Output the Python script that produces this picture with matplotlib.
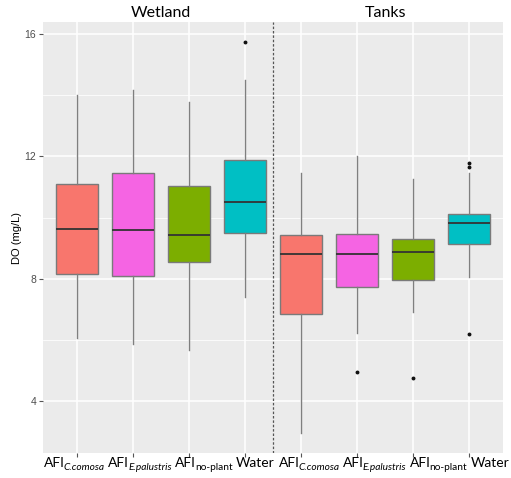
import numpy as np
import matplotlib
matplotlib.use("Agg")
import matplotlib.pyplot as plt
from matplotlib.ticker import MultipleLocator

plt.rcParams['font.family'] = ['Lato', 'DejaVu Sans']

# Dissolved oxygen box statistics, wetland first then tanks
label_main = ['AFI', 'AFI', 'AFI', 'Water'] * 2
label_sub = ['C.comosa', 'E.palustris', 'no-plant', ''] * 2
sub_italic = [True, True, False, False] * 2
whislo = [6.06, 5.86, 5.66, 7.42, 2.97, 6.22, 6.93, 8.05]
q1 = [8.17, 8.09, 8.54, 9.51, 6.84, 7.72, 7.95, 9.14]
med = [9.64, 9.58, 9.43, 10.52, 8.81, 8.81, 8.88, 9.82]
q3 = [11.09, 11.45, 11.03, 11.87, 9.43, 9.45, 9.29, 10.11]
whishi = [14.02, 14.16, 13.78, 14.50, 11.45, 12.01, 11.26, 11.45]
fliers = [[], [], [], [15.75], [], [4.96], [4.77], [11.79, 11.64, 6.20]]
colors = ['#F8766D', '#F564E3', '#7CAE00', '#00BFC4'] * 2
groups = ['Wetland', 'Tanks']

stats = []
for i in range(len(med)):
    stats.append(dict(whislo=whislo[i], q1=q1[i], med=med[i], q3=q3[i],
                      whishi=whishi[i], fliers=fliers[i]))

W, H = 511, 478
fig = plt.figure(figsize=(W / 100, H / 100), dpi=100)
ax = fig.add_axes([43 / W, 25 / H, 460 / W, 431 / H])
ax.set_facecolor('#EBEBEB')

pos = np.arange(1, len(med) + 1)
bp = ax.bxp(stats, positions=pos, widths=0.75, patch_artist=True, showcaps=False,
            boxprops=dict(edgecolor='#7a7a7a', linewidth=1.0),
            whiskerprops=dict(color='#7f7f7f', linewidth=1.0),
            medianprops=dict(color='#333333', linewidth=1.3),
            flierprops=dict(marker='o', markersize=1.8, markerfacecolor='#111111',
                            markeredgecolor='#111111'))
for box, c in zip(bp['boxes'], colors):
    box.set_facecolor(c)

ax.axvline(4.5, color='#555555', linestyle=(0, (2, 1.5)), linewidth=0.9)

ax.set_xlim(0.4, 8.6)
ax.set_ylim(2.31, 16.39)
ax.set_xticks(pos)
ax.set_xticklabels([''] * len(pos))
ax.yaxis.set_major_locator(MultipleLocator(4))
ax.yaxis.set_minor_locator(MultipleLocator(2))
ax.grid(which='major', color='white', linewidth=1.1)
ax.grid(which='minor', axis='y', color='white', linewidth=0.55)
ax.set_axisbelow(True)
for s in ax.spines.values():
    s.set_visible(False)
ax.tick_params(axis='both', which='major', length=3, width=0.8, color='#555555', pad=2)
ax.tick_params(axis='y', which='minor', length=0)
ax.tick_params(axis='y', labelsize=7.5, labelcolor='#4D4D4D')
for t in ax.get_yticklabels():
    t.set_family('Liberation Sans')

ax.set_ylabel('DO (mg/L)', fontsize=8, family='Liberation Sans')
ax.yaxis.label.set_va('center')
ax.yaxis.set_label_coords(-26 / 460, 0.5)

# group headers above the panel
for g, x in zip(groups, [2.5, 6.5]):
    ax.text(x, 1.004, g, transform=ax.get_xaxis_transform(), ha='center',
            va='bottom', fontsize=11.5)

# category labels set as one running line under the axis, subscripts lowered
renderer = fig.canvas.get_renderer()


def text_width(s, **kw):
    t = fig.text(0, 0, s, **kw)
    w = t.get_window_extent(renderer).width
    t.remove()
    return w


def line_width(fs, ratio):
    sp = text_width('A A', fontsize=fs) - text_width('AA', fontsize=fs)
    total = 0.0
    for m, sb, it in zip(label_main, label_sub, sub_italic):
        total += text_width(m, fontsize=fs) + sp
        if sb:
            total += text_width(sb, fontsize=fs * ratio,
                                style='italic' if it else 'normal') - 1
    return total - sp


ratio = 0.73
x_start, x_end = 44.0, 510.0
fs = 10.0 * (x_end - x_start) / line_width(10.0, ratio)
sub_fs = fs * ratio
space = text_width('A A', fontsize=fs) - text_width('AA', fontsize=fs)
x = x_start
base = H - 467
for m, sb, it in zip(label_main, label_sub, sub_italic):
    fig.text(x / W, base / H, m, fontsize=fs, va='baseline', ha='left')
    x += text_width(m, fontsize=fs)
    if sb:
        style = 'italic' if it else 'normal'
        x -= 1
        fig.text(x / W, (base - 3) / H, sb, fontsize=sub_fs, style=style,
                 va='baseline', ha='left')
        x += text_width(sb, fontsize=sub_fs, style=style)
    x += space

fig.savefig('out.png', dpi=100)
